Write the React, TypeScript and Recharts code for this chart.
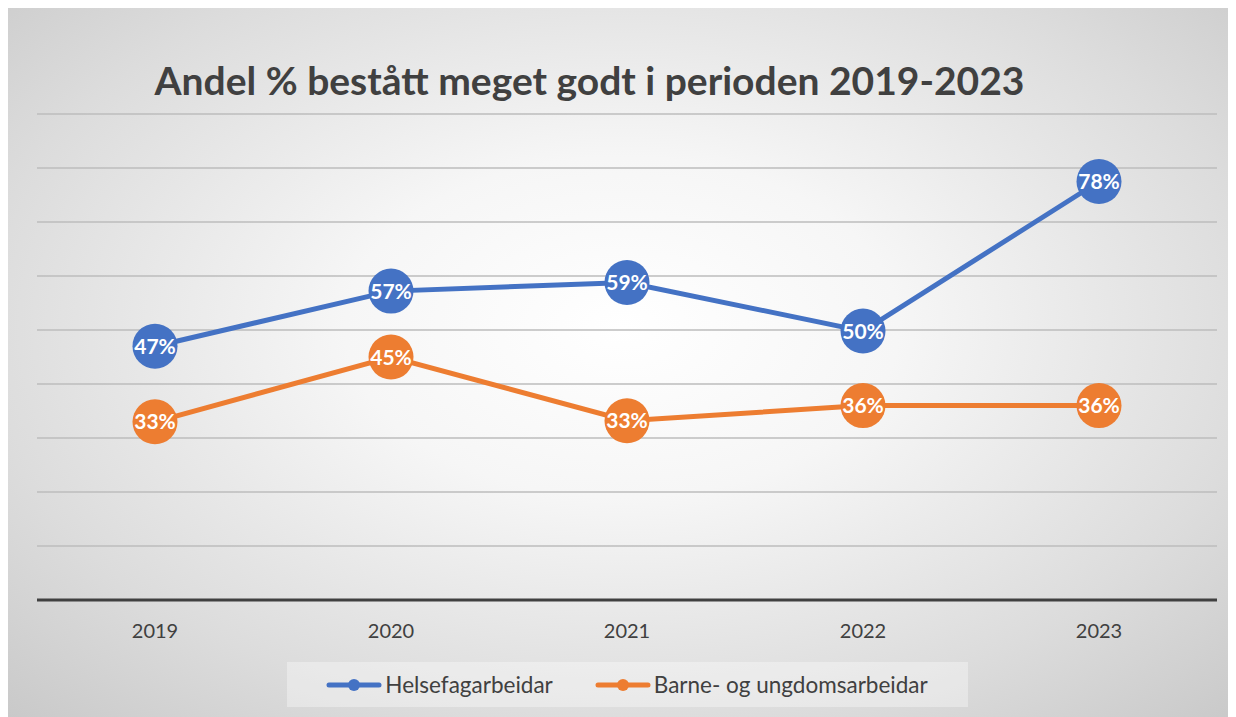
import { CartesianGrid, Legend, LabelList, Line, LineChart, XAxis, YAxis } from "recharts";

const years = ['2019', '2020', '2021', '2022', '2023'];
const helsefag = [0.47, 0.572, 0.588, 0.498, 0.775];
const barneUngdom = [0.33, 0.45, 0.332, 0.36, 0.36];
const yTicks = [0, 0.1, 0.2, 0.3, 0.4, 0.5, 0.6, 0.7, 0.8, 0.9];

const seriesNames = ['Helsefagarbeidar', 'Barne- og ungdomsarbeidar'];
const seriesColors = ['#4472C4', '#ED7D31'];

const data = years.map((year, i) => ({
    year,
    helse: helsefag[i],
    barne: barneUngdom[i],
}));

const font = "Lato, 'Open Sans', sans-serif";

function BigDot(props: any) {
    const { cx, cy, stroke } = props;
    if (cx == null || cy == null) return null;
    return <circle cx={cx} cy={cy} r={22.5} fill={stroke} stroke="none" />;
}

function DotLabel(props: any) {
    const { x, y, value } = props;
    return (
        <text x={x} y={y} dy={7.5} textAnchor="middle" fill="#fff" fontSize={21} fontWeight={700} fontFamily={font}>
            {Math.round(value * 100)}%
        </text>
    );
}

function LegendBox() {
    return (
        <div style={{ display: 'flex', justifyContent: 'center' }}>
            <div style={{
                width: 681, height: 45, background: 'rgba(255,255,255,0.35)',
                display: 'flex', alignItems: 'center', justifyContent: 'center', gap: 42,
                fontFamily: font, fontSize: 22.5, color: '#404040',
            }}>
                {seriesNames.map((name, i) => (
                    <div key={name} style={{ display: 'flex', alignItems: 'center' }}>
                        <svg width={56} height={14} style={{ marginRight: 3 }}>
                            <line x1={3} y1={7} x2={53} y2={7} stroke={seriesColors[i]} strokeWidth={5} strokeLinecap="round" />
                            <circle cx={28} cy={7} r={6} fill={seriesColors[i]} />
                        </svg>
                        <span>{name}</span>
                    </div>
                ))}
            </div>
        </div>
    );
}

export default function App() {
    return (
        <div style={{
            position: 'relative', width: 1228, height: 709, overflow: 'hidden',
            background: 'radial-gradient(ellipse 75% 80% at 50% 45%, #ffffff 0%, #f6f6f6 30%, #dcdcdc 70%, #c6c6c6 100%)',
        }}>
            <div style={{
                position: 'absolute', left: 0, top: 49, width: 1163, textAlign: 'center',
                fontFamily: font, fontWeight: 700, fontSize: 39, color: '#404040',
            }}>
                Andel % bestått meget godt i perioden 2019-2023
            </div>
            <LineChart width={1228} height={709} data={data} margin={{ top: 106, right: 19, left: 29, bottom: 10 }}>
                <CartesianGrid horizontal vertical={false} stroke="#bdbdbd" strokeWidth={1.4} />
                <YAxis hide domain={[0, 0.9]} ticks={yTicks} />
                <XAxis
                    dataKey="year"
                    scale="band"
                    height={62}
                    tickLine={false}
                    axisLine={{ stroke: '#404040', strokeWidth: 3 }}
                    tick={{ fill: '#404040', fontSize: 20, fontFamily: font }}
                    tickMargin={18}
                />
                <Legend verticalAlign="bottom" content={() => <LegendBox />} />
                <Line dataKey="helse" name={seriesNames[0]} stroke={seriesColors[0]} strokeWidth={5}
                    dot={<BigDot />} activeDot={false} isAnimationActive={false}>
                    <LabelList dataKey="helse" content={<DotLabel />} />
                </Line>
                <Line dataKey="barne" name={seriesNames[1]} stroke={seriesColors[1]} strokeWidth={5}
                    dot={<BigDot />} activeDot={false} isAnimationActive={false}>
                    <LabelList dataKey="barne" content={<DotLabel />} />
                </Line>
            </LineChart>
        </div>
    );
}
